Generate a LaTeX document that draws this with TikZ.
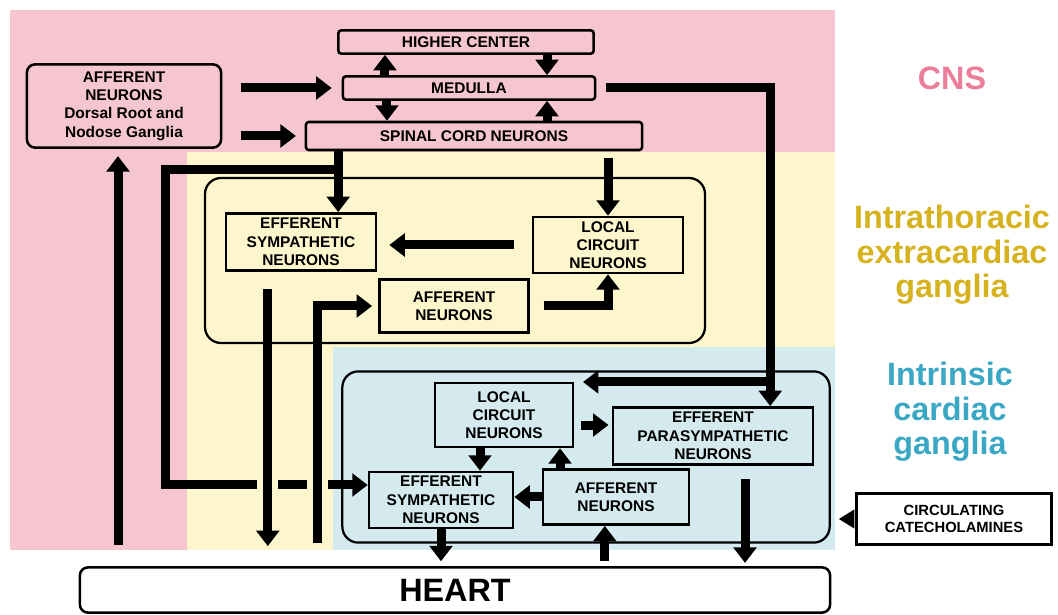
\documentclass[tikz,border=0pt]{standalone}
\usepackage{fontspec}
\setmainfont{Liberation Sans}
\usetikzlibrary{arrows.meta}
\definecolor{cnsbg}{RGB}{246,198,208}
\definecolor{ganbg}{RGB}{253,246,204}
\definecolor{icbg}{RGB}{213,234,238}
\definecolor{cnstext}{RGB}{236,125,155}
\definecolor{gantext}{RGB}{214,178,30}
\definecolor{ictext}{RGB}{58,167,196}
\begin{document}
\begin{tikzpicture}
    [x=0.025cm,y=-0.025cm,
     box/.style={draw,line width=1.8pt,align=center,inner sep=1pt,
       font=\bfseries\fontsize{11}{13}\selectfont},
     region/.style={draw,line width=1.6pt,rounded corners=0.4cm},
     fat/.style={line width=6.4pt,-{Triangle[width=16pt,length=11pt]}},
     halo/.style={preaction={draw=ganbg,line width=15pt,-}},
     zone/.style={align=center,font=\bfseries\fontsize{23}{24.5}\selectfont}]
  \useasboundingbox (0,0) rectangle (1058,615);
  % coloured bands
  \fill[cnsbg] (10,10) rectangle (835,550);
  \fill[ganbg] (187,152) rectangle (835,550);
  \fill[icbg] (333,347) rectangle (835,550);
  % CNS
  \node [box,rounded corners=2pt,minimum width=6.38cm,minimum height=0.58cm] (higher) at (466,42) {HIGHER CENTER};
  \node [box,rounded corners=2pt,minimum width=6.3cm,minimum height=0.58cm] (medulla) at (469,88) {MEDULLA};
  \node [box,rounded corners=2pt,minimum width=8.4cm,minimum height=0.7cm] (spinal) at (474,136) {SPINAL CORD NEURONS};
  \node [box,rounded corners=0.2cm,minimum width=4.85cm,minimum height=2.08cm] (drg) at (124,106) {AFFERENT\\NEURONS\\Dorsal Root and\\Nodose Ganglia};
  % intrathoracic ganglia
  \node [box,minimum width=3.75cm,minimum height=1.43cm] (esympT) at (301,242) {EFFERENT\\SYMPATHETIC\\NEURONS};
  \node [box,minimum width=3.75cm,minimum height=1.4cm] (localT) at (608,245) {LOCAL\\CIRCUIT\\NEURONS};
  \node [box,minimum width=3.73cm,minimum height=1.33cm] (affT) at (454,306) {AFFERENT\\NEURONS};
  % intrinsic ganglia
  \node [region,minimum width=12.18cm,minimum height=4.28cm] (regI) at (586,457) {};
  \node [box,minimum width=3.45cm,minimum height=1.6cm] (localI) at (504,415) {LOCAL\\CIRCUIT\\NEURONS};
  \node [box,minimum width=5cm,minimum height=1.43cm] (paraI) at (713,436) {EFFERENT\\PARASYMPATHETIC\\NEURONS};
  \node [box,minimum width=3.6cm,minimum height=1.4cm] (esympI) at (441,500) {EFFERENT\\SYMPATHETIC\\NEURONS};
  \node [box,minimum width=3.65cm,minimum height=1.38cm] (affI) at (616,497) {AFFERENT\\NEURONS};
  \node [box,font=\bfseries\fontsize{10.5}{12}\selectfont,minimum width=4.88cm,minimum height=1.28cm] (circ) at (954,519) {CIRCULATING\\CATECHOLAMINES};
  \node [box,rounded corners=0.2cm,font=\bfseries\fontsize{23}{26}\selectfont,minimum width=18.75cm,minimum height=1.13cm] (heart) at (455,590) {HEART};
  % zone labels
  \node [zone,text=cnstext] (cns) at (952,78) {CNS};
  \node [zone,text=gantext] (gan) at (952,255) {Intrathoracic\\extracardiac\\ganglia};
  \node [zone,text=ictext] (icg) at (950,412) {Intrinsic\\cardiac\\ganglia};
  % CNS connections
  \draw [fat,shorten <=0.48cm,shorten >=0.25cm] (drg.east |- medulla.west) -- (medulla.west);
  \draw [fat,shorten <=0.48cm,shorten >=0.22cm] (drg.east |- spinal.west) -- (spinal.west);
  \draw [fat] ([xshift=-2.1cm]medulla.north) -- ([xshift=-2.1cm]medulla.north |- higher.south);
  \draw [fat] ([xshift=1.95cm]medulla.north |- higher.south) -- ([xshift=1.95cm]medulla.north);
  \draw [fat] ([xshift=-2.05cm]medulla.south) -- ([xshift=-2.05cm]medulla.south |- spinal.north);
  \draw [fat] ([xshift=1.95cm]medulla.south |- spinal.north) -- ([xshift=1.95cm]medulla.south);
  \draw [fat,shorten <=0.25cm] (medulla.east) -| ([xshift=1.43cm]paraI.north);
  \coordinate (tap) at (770,382);
  \coordinate (tapend) at (583,382);
  \draw [fat] (tap) -- (tapend);
  \draw [fat] ([xshift=0.93cm]esympT.north |- spinal.south) -- ([xshift=0.93cm]esympT.north);
  \draw [fat,shorten <=0.18cm] (localT.north |- spinal.south) -- (localT.north);
  \coordinate (split) at (338,170);
  \coordinate (bend) at (165,485);
  \draw [fat] (split) -| (bend) -- (bend -| esympI.west);
  % intrathoracic connections
  \draw [fat,shorten <=0.45cm,shorten >=0.3cm] (localT.west) -- (localT.west -| esympT.east);
  \draw [fat,shorten <=0.35cm] (affT.east) -| (localT.south);
  \draw [fat,halo,shorten <=0.43cm,shorten >=0.5cm] ([xshift=-0.83cm]esympT.south) -- ([xshift=-0.83cm]esympT.south |- heart.north);
  \draw [fat,halo,shorten <=0.58cm,shorten >=0.15cm] ([xshift=-3.43cm]heart.north) |- (affT.west);
  \draw [fat,shorten <=0.53cm,shorten >=0.18cm] ([xshift=-0.15cm]drg.south |- heart.north) -- ([xshift=-0.15cm]drg.south);
  % intrinsic connections
  \draw [fat,shorten <=0.18cm,shorten >=0.08cm] ([yshift=-0.25cm]localI.east) -- ([yshift=-0.25cm]localI.east -| paraI.west);
  \draw [fat] ([xshift=-0.6cm]localI.south) -- ([xshift=-0.6cm]localI.south |- esympI.north);
  \draw [fat] ([xshift=1.4cm]localI.south |- affI.north) -- ([xshift=1.4cm]localI.south);
  \draw [fat] (affI.west) -- (affI.west -| esympI.east);
  \draw [fat,shorten >=0.12cm] (esympI.south) -- (esympI.south |- heart.north);
  \draw [fat,shorten <=0.12cm] ([xshift=-0.28cm]affI.south |- heart.north) -- ([xshift=-0.28cm]affI.south);
  \draw [fat,shorten <=0.33cm,shorten >=0.08cm] ([xshift=0.8cm]paraI.south) -- ([xshift=0.8cm]paraI.south |- heart.north);
  \draw [line width=2pt,-{Triangle[width=13pt,length=11pt]},shorten <=0.1cm,shorten >=0.2cm] (circ.west) -- (circ.west -| regI.east);
  % intrathoracic frame
  \draw [region] (205,178) rectangle (705,343);
\end{tikzpicture}
\end{document}
